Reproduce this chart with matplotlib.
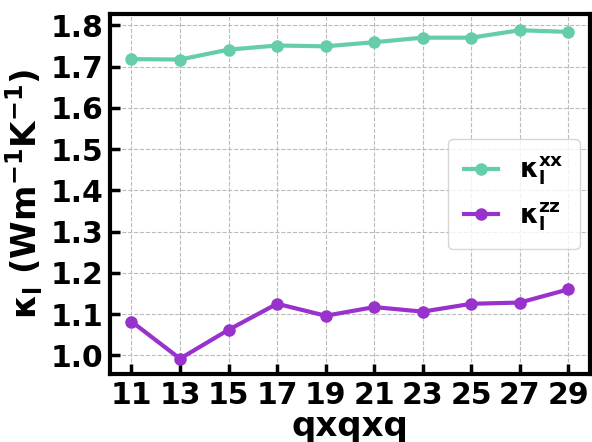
import matplotlib
matplotlib.use("Agg")
import matplotlib.pyplot as plt

q = [11, 13, 15, 17, 19, 21, 23, 25, 27, 29]
kxx = [1.718, 1.717, 1.741, 1.751, 1.749, 1.759, 1.770, 1.770, 1.788, 1.784]
kzz = [1.082, 0.992, 1.062, 1.125, 1.096, 1.117, 1.106, 1.125, 1.128, 1.160]

plt.rcParams['font.weight'] = 'bold'
plt.rcParams['mathtext.default'] = 'bf'

fig = plt.figure(figsize=(5.92, 4.42), dpi=100)
ax = fig.add_axes([0.186, 0.154, 0.811, 0.814])

ax.plot(q, kxx, '-o', color='#66CDAA', lw=3, ms=8, label=r'$\mathbf{\kappa_l^{xx}}$')
ax.plot(q, kzz, '-o', color='#9932CC', lw=3, ms=8, label=r'$\mathbf{\kappa_l^{zz}}$')

ax.set_xticks(q)
ax.set_xlim(10.12, 29.9)
ax.set_ylim(0.955, 1.827)
ax.set_yticks([1.0, 1.1, 1.2, 1.3, 1.4, 1.5, 1.6, 1.7, 1.8])
ax.tick_params(direction='in', width=2.5, length=7, labelsize=21.5, pad=5)
for lab in ax.get_xticklabels() + ax.get_yticklabels():
    lab.set_fontweight('bold')
for s in ax.spines.values():
    s.set_linewidth(3)
ax.grid(True, linestyle='--', color='#bbbbbb', lw=0.8)
ax.set_xlabel('qxqxq', fontsize=24.5, fontweight='bold', labelpad=0)
ax.set_ylabel(r'$\mathbf{\kappa_l}$ (Wm$^{\mathbf{-1}}$K$^{\mathbf{-1}}$)', fontsize=24.5, fontweight='bold', labelpad=4)
leg = ax.legend(loc='center right', fontsize=19, bbox_to_anchor=(1.0, 0.5),
                borderaxespad=0.4, handlelength=1.3, borderpad=0.6, labelspacing=0.5)
fig.savefig('out.png', dpi=100)
